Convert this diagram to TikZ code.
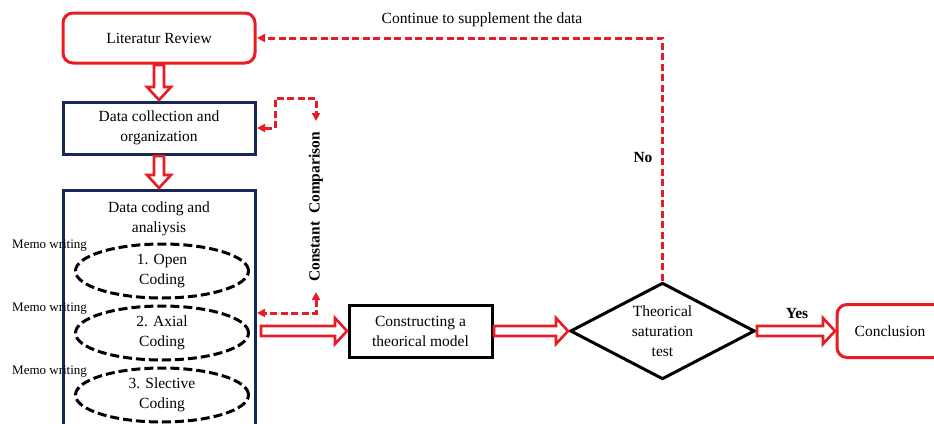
\documentclass[tikz,border=0pt]{standalone}
\usepackage{fontspec}
\setmainfont{Liberation Serif}
\usetikzlibrary{positioning,shapes.geometric,arrows.meta,calc}
\definecolor{flowred}{RGB}{232,28,36}
\definecolor{flownavy}{RGB}{22,40,86}

\begin{document}
\begin{tikzpicture}[x=1pt,y=-1pt,
    every node/.style = {font=\fontsize{15.5}{20}\selectfont, align=center},
    redbox/.style = {draw=flowred, line width=3pt, rounded corners=10pt, minimum height=50pt, outer sep=2pt},
    navybox/.style = {draw=flownavy, line width=3pt, minimum width=192pt, outer sep=2pt},
    blackbox/.style = {draw=black, line width=3pt, outer sep=2pt},
    codestep/.style = {draw, ellipse, dash pattern=on 9pt off 4pt, line width=3pt, minimum width=173pt, minimum height=54pt, inner sep=0pt},
    memo/.style = {font=\fontsize{13}{15}\selectfont, anchor=west, inner sep=0pt},
    tag/.style = {font=\bfseries\fontsize{15.5}{20}\selectfont},
    dashloop/.style = {draw=flowred, line width=3pt, dash pattern=on 7pt off 3.5pt},
    tip/.tip = {Triangle[length=8pt,width=8pt]},
    fatdown/.style = {draw=flowred, line width=2.6pt, fill=white, line join=miter,
        to path={([xshift=-5pt]\tikztostart) -- ([xshift=-5pt,yshift=13pt]\tikztotarget)
            -- ([xshift=-12pt,yshift=13pt]\tikztotarget) -- (\tikztotarget)
            -- ([xshift=12pt,yshift=13pt]\tikztotarget) -- ([xshift=5pt,yshift=13pt]\tikztotarget)
            -- ([xshift=5pt]\tikztostart) -- cycle}},
    fatright/.style = {draw=flowred, line width=2.6pt, fill=white, line join=miter,
        to path={([yshift=5pt]\tikztostart) -- ([xshift=-12pt,yshift=5pt]\tikztotarget)
            -- ([xshift=-12pt,yshift=13pt]\tikztotarget) -- (\tikztotarget)
            -- ([xshift=-12pt,yshift=-13pt]\tikztotarget) -- ([xshift=-12pt,yshift=-5pt]\tikztotarget)
            -- ([yshift=-5pt]\tikztostart) -- cycle}}]
    \useasboundingbox (0,0) rectangle (934,423);
    \clip (0,0) rectangle (934,423);

    \node[redbox, minimum width=192pt] (lit) at (159,38) {Literatur Review};
    \node[navybox, minimum height=52pt, below=35pt of lit] (col) {Data collection and\\organization};
    \node[navybox, minimum height=240pt, below=32pt of col] (cod) {};
    \node (codt) at (159,219) {Data coding and\\analiysis};

    \node[codestep] (open) at (162,271) {1. Open\\Coding};
    \node[codestep, below=5pt of open] (axial) {2. Axial\\Coding};
    \node[codestep, below=5pt of axial] (select) {3. Slective\\Coding};
    \node[memo] (memo1) at (12,246) {Memo writing};
    \node[memo] (memo2) at (12,309) {Memo writing};
    \node[memo] (memo3) at (12,372) {Memo writing};

    \node[blackbox, minimum width=143pt, minimum height=52pt] (cons) at (420.5,331) {Constructing a\\theorical model};
    \node[blackbox, diamond, aspect=1.9, minimum width=185pt, minimum height=97pt, inner sep=0pt, right=74pt of cons] (test) {Theorical\\saturation\\test};
    \node[redbox, minimum width=106pt, minimum height=53pt, right=78pt of test] (concl) {Conclusion};

    \node[tag, rotate=90] (cc) at (316,207) {Constant\ \ Comparison};
    \node (supp) at (482,20) {Continue to supplement the data};
    \node[tag] (no) at (643,157) {No};
    \node[tag] (yes) at (797,313) {Yes};

    \coordinate (ccnw) at (275,98);
    \coordinate (ccne) at (316,98);
    \coordinate (cctop) at (316,121);
    \coordinate (ccbot) at (316,292);
    \coordinate (ccse) at (316,313);
    \coordinate (codout) at ($(cod.east |- cons.west)+(4,0)$);

    \path[fatdown] (lit.south) to (col.north);
    \path[fatdown] (col.south) to (cod.north);
    \path[fatright] (codout) to (cons.west);
    \path[fatright] (cons.east) to (test.west);
    \path[fatright] (test.east) to (concl.west);

    \draw[dashloop, tip-tip] (col.east) -| (ccnw) -- (ccne) -- (cctop);
    \draw[dashloop, tip-tip] (ccbot) -- (ccse) -- (cod.east |- ccse);
    \draw[dashloop, -tip] (test.north) |- (lit.east);
\end{tikzpicture}
\end{document}
